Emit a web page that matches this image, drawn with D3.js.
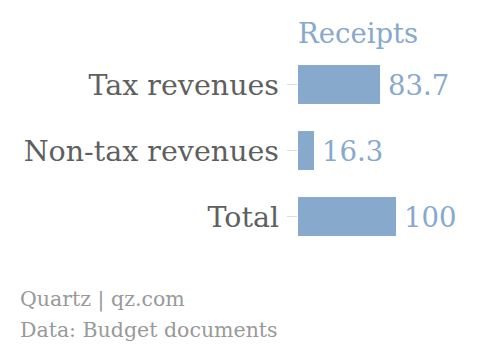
<!DOCTYPE html>
<html><head><meta charset="utf-8">
<script src="https://cdn.jsdelivr.net/npm/d3@7"></script>
<style>body{margin:0;background:#fff}</style>
</head><body>
<script>
const categories = ["Tax revenues", "Non-tax revenues", "Total"];
const values = [83.7, 16.3, 100];
const valueLabels = ["83.7", "16.3", "100"];
const seriesName = "Receipts";
const footer = ["Quartz | qz.com", "Data: Budget documents"];

const W = 480, H = 350;
const svg = d3.select("body").append("svg").attr("width", W).attr("height", H);
const font = "'DejaVu Serif', serif";
const blue = "#87a9cb";

const x = d3.scaleLinear().domain([0, 100]).range([298, 396]);
const y = d3.scaleBand().domain(categories).range([51.5, 249.5]).paddingInner(0.41).paddingOuter(0.205);

const axis = d3.axisLeft(y).tickSize(10).tickPadding(9);
const g = svg.append("g").attr("transform", "translate(298,0)").call(axis);
g.select(".domain").remove();
g.selectAll(".tick line").attr("stroke", "#ddd").attr("transform","translate(-1,0)");
g.selectAll(".tick text").attr("font-family", font).attr("font-size", 28.5).attr("fill", "#5f5f5f").attr("dy", "0.37em");

svg.selectAll("rect.bar").data(values).join("rect")
  .attr("x", x(0)).attr("y", (d,i)=>y(categories[i]))
  .attr("width", d=>x(d)-x(0)).attr("height", y.bandwidth())
  .attr("fill", blue);

svg.selectAll("text.val").data(values).join("text")
  .attr("x", d=>x(d)+8).attr("y", (d,i)=>y(categories[i])+y.bandwidth()/2)
  .attr("dy","0.37em")
  .attr("font-family", font).attr("font-size", 27.5).attr("fill", blue)
  .text((d,i)=>valueLabels[i]);

svg.append("text").attr("x", 298).attr("y", 43).attr("font-family", font).attr("font-size", 27.5).attr("fill", blue).text(seriesName);

svg.selectAll("text.foot").data(footer).join("text")
  .attr("x", 20).attr("y", (d,i)=>306+i*30.5)
  .attr("font-family", font).attr("font-size", 20.5).attr("fill", "#999").text(d=>d);
</script>
</body></html>
